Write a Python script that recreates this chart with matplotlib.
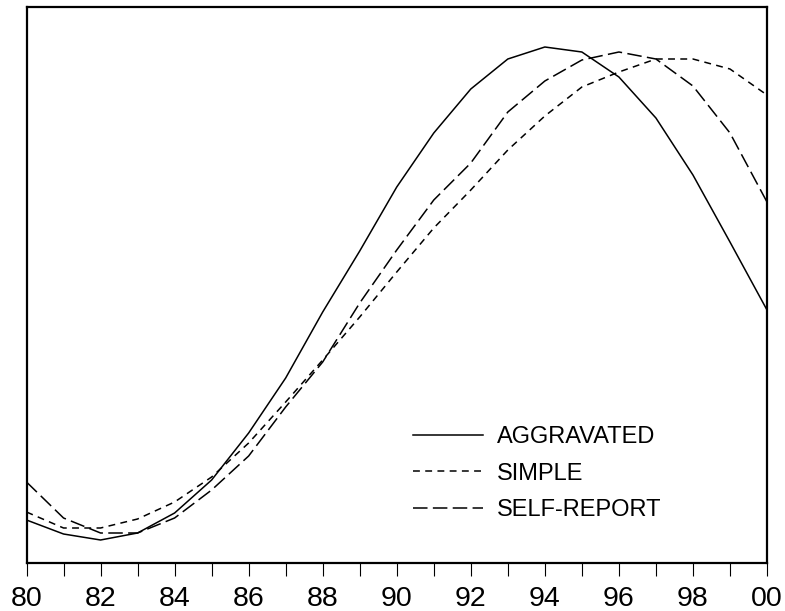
import matplotlib
matplotlib.use("Agg")
import matplotlib.pyplot as plt
import numpy as np

plt.rcParams['font.family'] = ['Liberation Sans', 'DejaVu Sans']

# years 1980..2000, values (arbitrary units, no y scale shown)
years = list(range(1980, 2001))
aggravated = [52, 38, 32, 39, 59, 92, 139, 194, 260, 321, 385, 439, 483, 513, 525, 520, 495, 454, 397, 330, 262]
simple = [60, 44, 44, 53, 70, 95, 129, 170, 212, 255, 300, 344, 382, 422, 456, 485, 500, 513, 513, 503, 477]
self_report = [90, 54, 39, 39, 54, 82, 116, 165, 210, 269, 322, 372, 409, 460, 491, 512, 520, 513, 486, 439, 370]
tick_labels = ['80', '82', '84', '86', '88', '90', '92', '94', '96', '98', '00']

fig = plt.figure(figsize=(7.85, 6.11), dpi=100)
ax = fig.add_axes([26.5 / 785, 48 / 611, 740.5 / 785, 556 / 611])

ax.plot(years, aggravated, color='black', lw=1.1, ls='-', label='AGGRAVATED')
ax.plot(years, simple, color='black', lw=1.1, ls=(0, (4.5, 3.5)), label='SIMPLE')
ax.plot(years, self_report, color='black', lw=1.1, ls=(0, (9.5, 3.5)), label='SELF-REPORT')

ax.set_xlim(1980, 2000)
ax.set_ylim(9, 565)
ax.set_yticks([])
ax.set_xticks(years)
ax.set_xticklabels([tick_labels[i // 2] if i % 2 == 0 else '' for i in range(len(years))])
ax.tick_params(axis='x', direction='out', length=9.5, width=0.8, pad=7, labelsize=20.5)
for s in ax.spines.values():
    s.set_linewidth(1.6)

ax.legend(loc='upper left', bbox_to_anchor=(413 / 785, 1 - 426 / 611),
          bbox_transform=fig.transFigure, frameon=False,
          fontsize=17, handlelength=2.97, handletextpad=0.6, labelspacing=0.62,
          borderpad=0, borderaxespad=0)

fig.savefig('out.png', dpi=100)
